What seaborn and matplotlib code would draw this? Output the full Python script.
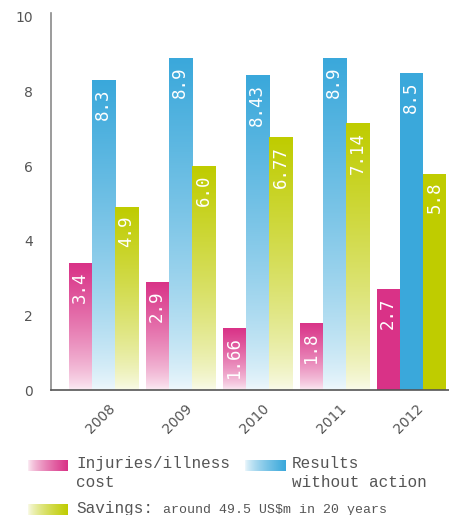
import numpy as np
import pandas as pd
import matplotlib
matplotlib.use("Agg")
import matplotlib.pyplot as plt
import matplotlib.transforms as mtransforms
from matplotlib.colors import to_rgb
import seaborn as sns

# data
years = ["2008", "2009", "2010", "2011", "2012"]
injuries = [3.4, 2.9, 1.66, 1.8, 2.7]
no_action = [8.3, 8.9, 8.43, 8.9, 8.5]
savings = [4.9, 6.0, 6.77, 7.14, 5.8]
injuries_lbl = ["3.4", "2.9", "1.66", "1.8", "2.7"]
no_action_lbl = ["8.3", "8.9", "8.43", "8.9", "8.5"]
savings_lbl = ["4.9", "6.0", "6.77", "7.14", "5.8"]
series = ["Injuries/illness cost", "Results without action", "Savings"]
colors = ["#D93287", "#3AA8DB", "#BFCC00"]
faded_years = ["2008", "2009", "2010", "2011"]   # 2012 bars are solid
yticks = [0, 2, 4, 6, 8, 10]

df = pd.DataFrame({
    "year": years * 3,
    "series": np.repeat(series, len(years)),
    "value": injuries + no_action + savings,
})

W, H = 449, 515
sns.set_style("white")
fig = plt.figure(figsize=(W / 100, H / 100), dpi=100)
ax = fig.add_axes([51 / W, 125 / H, 398 / W, 377 / H])

sns.barplot(df, x="year", y="value", hue="series", palette=colors,
            width=0.9, saturation=1, legend=False, linewidth=0, ax=ax)


def fade(color, n=256, horizontal=False):
    # white -> colour ramp
    c = np.array(to_rgb(color))
    t = np.linspace(0, 1, n)
    a = 0.07 + 0.93 * t ** 0.7
    img = 1 - (1 - c)[None, :] * a[:, None]
    if horizontal:
        return img[None, :, :]
    return img[:, None, :]


labels = [injuries_lbl, no_action_lbl, savings_lbl]
for cont, col, lbls in zip(ax.containers, colors, labels):
    for bar, yr, lb in zip(cont, years, lbls):
        x0, y0 = bar.get_x(), bar.get_y()
        w, h = bar.get_width(), bar.get_height()
        if yr in faded_years:
            im = ax.imshow(fade(col), extent=[x0, x0 + w, y0, y0 + h],
                           origin="lower", aspect="auto", zorder=2)
            im.set_clip_path(bar)
        ax.annotate(lb, (x0 + w / 2, y0 + h), xytext=(0, -6),
                    textcoords="offset points", rotation=90,
                    ha="center", va="top", color="white", fontsize=12.5,
                    family="DejaVu Sans Mono", zorder=5)

ax.set_xlim(-0.68, 4.49)
ax.set_ylim(0, 10.1)
ax.set_yticks(yticks)
ax.set_xlabel("")
ax.set_ylabel("")
ax.tick_params(axis="y", length=0, pad=13, labelsize=10, labelcolor="#555555")
ax.tick_params(axis="x", length=0, pad=8, labelsize=10, labelcolor="#555555")
shift = mtransforms.ScaledTranslation(15 / 100, 0, fig.dpi_scale_trans)
for lbl in ax.get_xticklabels():
    lbl.set_rotation(45)
    lbl.set_ha("right")
    lbl.set_transform(lbl.get_transform() + shift)

sns.despine(ax=ax)
ax.spines["left"].set_color("#8a8a8a")
ax.spines["left"].set_linewidth(1.2)
ax.spines["bottom"].set_color("#555555")
ax.spines["bottom"].set_linewidth(1.2)


# legend drawn by hand: gradient swatches + monospace text
def swatch(x, y, w, h, color):
    sax = fig.add_axes([x / W, 1 - (y + h) / H, w / W, h / H])
    sax.imshow(fade(color, horizontal=True), aspect="auto")
    sax.set_axis_off()


swatch(28, 460, 40, 11, colors[0])
swatch(245, 460, 40, 11, colors[1])
swatch(28, 504, 40, 11, colors[2])

txt = dict(color="#555555", family="Liberation Mono", va="baseline", ha="left")
fig.text(76 / W, 1 - 468 / H, "Injuries/illness", fontsize=11.5, **txt)
fig.text(76 / W, 1 - 487 / H, "cost", fontsize=11.5, **txt)
fig.text(292 / W, 1 - 468 / H, "Results", fontsize=11.5, **txt)
fig.text(292 / W, 1 - 487 / H, "without action", fontsize=11.5, **txt)
fig.text(76 / W, 1 - 513 / H, "Savings:", fontsize=11.5, **txt)
fig.text(163 / W, 1 - 513 / H, "around 49.5 US$m in 20 years", fontsize=9.5, **txt)

fig.savefig("out.png", dpi=100)
